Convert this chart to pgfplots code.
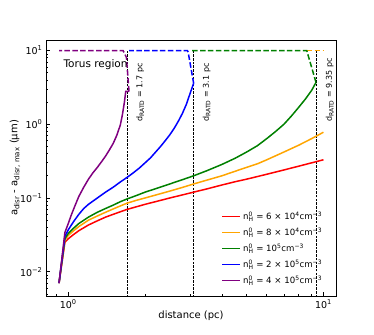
\documentclass[border=0pt]{standalone}
\usepackage{fontspec}
\setmainfont{DejaVu Sans}
\usepackage{pgfplots}
\pgfplotsset{compat=1.18}
\definecolor{mred}{HTML}{FF0000}
\definecolor{morange}{HTML}{FFA500}
\definecolor{mgreen}{HTML}{008000}
\definecolor{mblue}{HTML}{0000FF}
\definecolor{mpurple}{HTML}{800080}
\newcommand{\nH}{n\rlap{\textsuperscript{0}}\textsubscript{H}}
\begin{document}
\begin{tikzpicture}
\begin{axis}[
  scale only axis, width=290pt, height=256pt,
  xmode=log, ymode=log,
  xmin=0.818, xmax=11.2, ymin=0.00468, ymax=13.9,
  axis line style={line width=0.9pt},
  tick pos=left, tick align=inside,
  major tick length=4pt, minor tick length=2.2pt,
  every tick/.style={black, line width=0.7pt},
  xtick={1,10}, xticklabels={10\textsuperscript{0},10\textsuperscript{1}},
  minor xtick={0.9,2,3,4,5,6,7,8,9},
  ytick={0.01,0.1,1,10},
  yticklabels={10\textsuperscript{−2},10\textsuperscript{−1},10\textsuperscript{0},10\textsuperscript{1}},
  minor ytick={0.005,0.006,0.007,0.008,0.009,0.02,0.03,0.04,0.05,0.06,0.07,0.08,0.09,0.2,0.3,0.4,0.5,0.6,0.7,0.8,0.9,2,3,4,5,6,7,8,9},
  tick label style={font=\fontsize{9.5}{11}\selectfont},
  xlabel={distance (pc)},
  ylabel={a\textsubscript{disr} - a\textsubscript{disr, max} (μm)},
  label style={font=\fontsize{10}{12}\selectfont},
  xlabel style={at={(axis description cs:0.5,-0.078)}, anchor=center},
  ylabel style={at={(axis description cs:-0.107,0.5)}, anchor=center},
  legend style={draw=none, fill=none, at={(0.97,0.025)}, anchor=south east,
    font=\fontsize{8.6}{10}\selectfont, row sep=2.2pt},
  legend cell align=left,
  legend image code/.code={\draw[#1, line width=1.5pt, solid] (0pt,0pt) -- (18pt,0pt);},
]
% vertical lines
\addplot[forget plot, black, line width=0.6pt, dash pattern=on 2.5pt off 1.2pt] coordinates {(1.7,0.001) (1.7,10)};
\addplot[forget plot, black, line width=0.6pt, dash pattern=on 2.5pt off 1.2pt] coordinates {(3.1,0.001) (3.1,10)};
\addplot[forget plot, black, line width=0.6pt, dash pattern=on 2.5pt off 1.2pt] coordinates {(9.35,0.001) (9.35,10)};
% dashed parts
\addplot[forget plot, color=morange, line width=1.5pt, dash pattern=on 5.5pt off 2.4pt] coordinates {(8.6,10) (10,10)};
\addplot[forget plot, color=mgreen, line width=1.5pt, dash pattern=on 5.5pt off 2.4pt] coordinates {(9.35,3.7) (8.6,10) (3.05,10)};
\addplot[forget plot, color=mblue, line width=1.5pt, dash pattern=on 5.5pt off 2.4pt] coordinates {(3.1,3.6) (2.95,9.5) (2.93,10) (1.73,10)};
\addplot[forget plot, color=mpurple, line width=1.5pt, dash pattern=on 5.5pt off 2.4pt] coordinates {(1.73,2.8) (1.69,8.1) (1.64,10) (0.92,10)};
% solid curves
\addplot[color=mred, line width=1.5pt, solid] coordinates {(0.92,0.007) (0.97,0.025) (1.0,0.028) (1.05,0.032) (1.1,0.036) (1.2,0.043) (1.3,0.049) (1.4,0.055) (1.5,0.06) (1.6,0.065) (1.7,0.07) (1.85,0.076) (2.0,0.082) (2.25,0.091) (2.5,0.1) (2.8,0.11) (3.1,0.12) (3.5,0.133) (4.0,0.15) (4.5,0.166) (5.0,0.18) (5.5,0.195) (6.0,0.21) (7.0,0.24) (8.0,0.27) (9.0,0.3) (10,0.33)};
\addlegendentry{\nH{} = 6 × 10\textsuperscript{4}cm\textsuperscript{−3}}
\addplot[color=morange, line width=1.5pt, solid] coordinates {(0.92,0.007) (0.97,0.027) (1.0,0.031) (1.05,0.036) (1.1,0.041) (1.2,0.05) (1.3,0.057) (1.4,0.064) (1.5,0.071) (1.6,0.078) (1.7,0.085) (1.85,0.093) (2.0,0.1) (2.25,0.112) (2.5,0.124) (2.8,0.139) (3.1,0.155) (3.5,0.175) (4.0,0.2) (4.5,0.23) (5.0,0.26) (5.5,0.29) (6.0,0.33) (7.0,0.42) (8.0,0.52) (9.0,0.64) (10,0.78)};
\addlegendentry{\nH{} = 8 × 10\textsuperscript{4}cm\textsuperscript{−3}}
\addplot[color=mgreen, line width=1.5pt, solid] coordinates {(0.92,0.007) (0.97,0.028) (1.0,0.033) (1.05,0.039) (1.1,0.045) (1.2,0.055) (1.3,0.064) (1.4,0.072) (1.5,0.08) (1.6,0.089) (1.7,0.097) (1.85,0.108) (2.0,0.12) (2.25,0.137) (2.5,0.155) (2.8,0.177) (3.1,0.2) (3.5,0.235) (4.0,0.285) (4.5,0.345) (5.0,0.42) (5.5,0.51) (6.0,0.64) (6.5,0.8) (7.0,1.0) (7.5,1.3) (8.0,1.7) (8.5,2.2) (9.0,2.9) (9.35,3.7)};
\addlegendentry{\nH{} = 10\textsuperscript{5}cm\textsuperscript{−3}}
\addplot[color=mblue, line width=1.5pt, solid] coordinates {(0.92,0.007) (0.97,0.030) (1.0,0.037) (1.05,0.048) (1.1,0.06) (1.15,0.072) (1.2,0.082) (1.3,0.1) (1.4,0.12) (1.5,0.14) (1.6,0.165) (1.7,0.19) (1.8,0.22) (1.9,0.255) (2.0,0.3) (2.1,0.35) (2.2,0.42) (2.3,0.5) (2.4,0.6) (2.5,0.72) (2.6,0.88) (2.7,1.1) (2.8,1.4) (2.9,1.85) (3.0,2.6) (3.1,3.6)};
\addlegendentry{\nH{} = 2 × 10\textsuperscript{5}cm\textsuperscript{−3}}
\addplot[color=mpurple, line width=1.5pt, solid] coordinates {(0.92,0.007) (0.97,0.034) (1.0,0.045) (1.03,0.06) (1.06,0.077) (1.1,0.105) (1.15,0.14) (1.2,0.18) (1.25,0.22) (1.3,0.26) (1.35,0.31) (1.4,0.37) (1.45,0.45) (1.5,0.55) (1.55,0.71) (1.6,0.98) (1.63,1.35) (1.66,2.0) (1.68,2.8) (1.73,2.8)};
\addlegendentry{\nH{} = 4 × 10\textsuperscript{5}cm\textsuperscript{−3}}
% texts
\node[anchor=base west, font=\fontsize{10.5}{12}\selectfont] at (axis cs:0.928,5.9) {Torus region};
\node[rotate=90, anchor=north west, font=\fontsize{8}{9}\selectfont] at (axis cs:1.79,0.98) {d\textsubscript{RATD} = 1.7 pc};
\node[rotate=90, anchor=north west, font=\fontsize{8}{9}\selectfont] at (axis cs:3.26,0.98) {d\textsubscript{RATD} = 3.1 pc};
\node[rotate=90, anchor=north west, font=\fontsize{8}{9}\selectfont] at (axis cs:9.9,0.98) {d\textsubscript{RATD} = 9.35 pc};
\end{axis}
\pgfresetboundingbox
\path[use as bounding box] (-46pt,-38pt) rectangle (328pt,296pt);
\end{tikzpicture}
\end{document}
